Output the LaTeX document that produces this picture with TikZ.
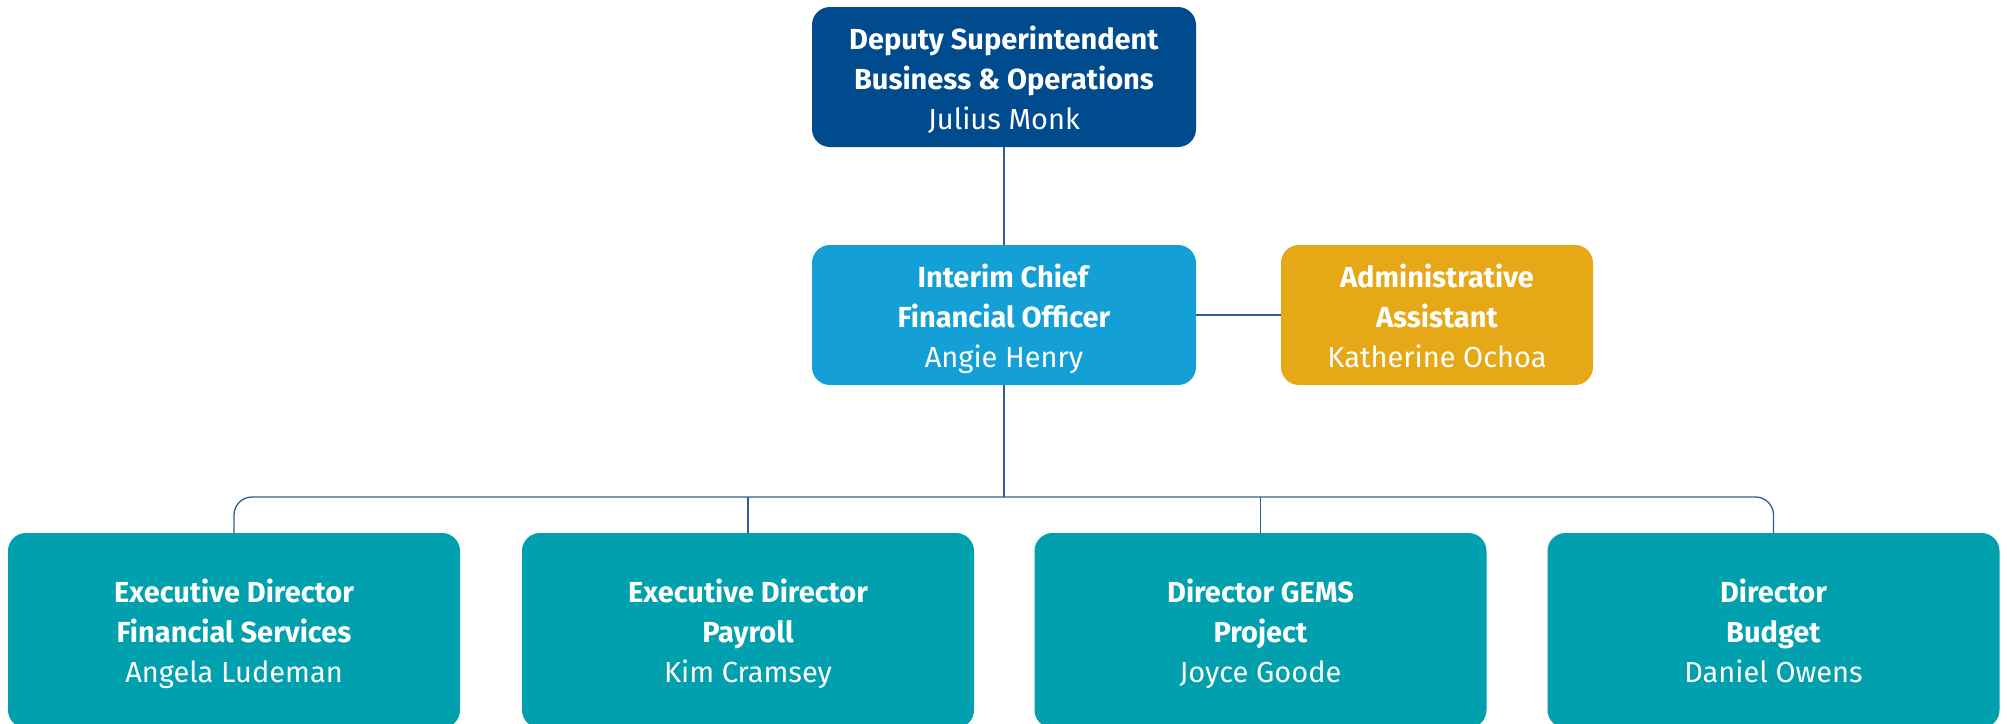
\documentclass[tikz,border=0pt]{standalone}
\usepackage{fontspec}
\setmainfont{Fira Sans}
\definecolor{deputyblue}{HTML}{004A8E}
\definecolor{cfoblue}{HTML}{14A0D6}
\definecolor{admingold}{HTML}{E6A817}
\definecolor{deptteal}{HTML}{00A0AF}
\definecolor{linkblue}{HTML}{2F5C97}
\newcommand{\roletext}[3]{\rule{0pt}{36pt}\textbf{#1}\\\textbf{#2}\\#3\strut}
\tikzset{
  box/.style={rectangle, rounded corners=18pt, text=white, align=center,
    minimum width=384pt, minimum height=140pt,
    font=\fontsize{29}{40}\selectfont},
  dept/.style={box, fill=deptteal, minimum width=452pt, minimum height=195pt},
  link/.style={draw=linkblue, line width=1.3pt}
}
\begin{document}
\begin{tikzpicture}[x=1pt, y=-1pt]
\useasboundingbox (0,0) rectangle (2007,723);
\clip (0,0) rectangle (2007,723);

\node[box, fill=deputyblue] at (1004, 77) (deputy) {\roletext{Deputy Superintendent}{Business \& Operations}{Julius Monk}};
\node[box, fill=cfoblue] at (1004, 315) (cfo) {\roletext{Interim Chief}{Financial Officer}{Angie Henry}};
\node[box, fill=admingold, minimum width=312pt] at (1437, 315) (admin) {\roletext{Administrative}{Assistant}{Katherine Ochoa}};

\node[dept] at (234, 630.5) (finance) {\roletext{Executive Director}{Financial Services}{Angela Ludeman}};
\node[dept] at (748, 630.5) (payroll) {\roletext{Executive Director}{Payroll}{Kim Cramsey}};
\node[dept] at (1260.5, 630.5) (gems) {\roletext{Director GEMS}{Project}{Joyce Goode}};
\node[dept] at (1773.5, 630.5) (budget) {\roletext{Director}{Budget}{Daniel Owens}};

\coordinate (bus) at (1004, 497);

\begin{scope}[link]
\draw (deputy) -- (cfo);
\draw (cfo) -- (admin);
\draw (cfo.south) -- (bus);
\draw[rounded corners=18pt] (finance.north) |- (bus) -| (budget.north);
\draw (payroll.north) -- (payroll.north |- bus);
\draw (gems.north) -- (gems.north |- bus);
\end{scope}
\end{tikzpicture}
\end{document}
